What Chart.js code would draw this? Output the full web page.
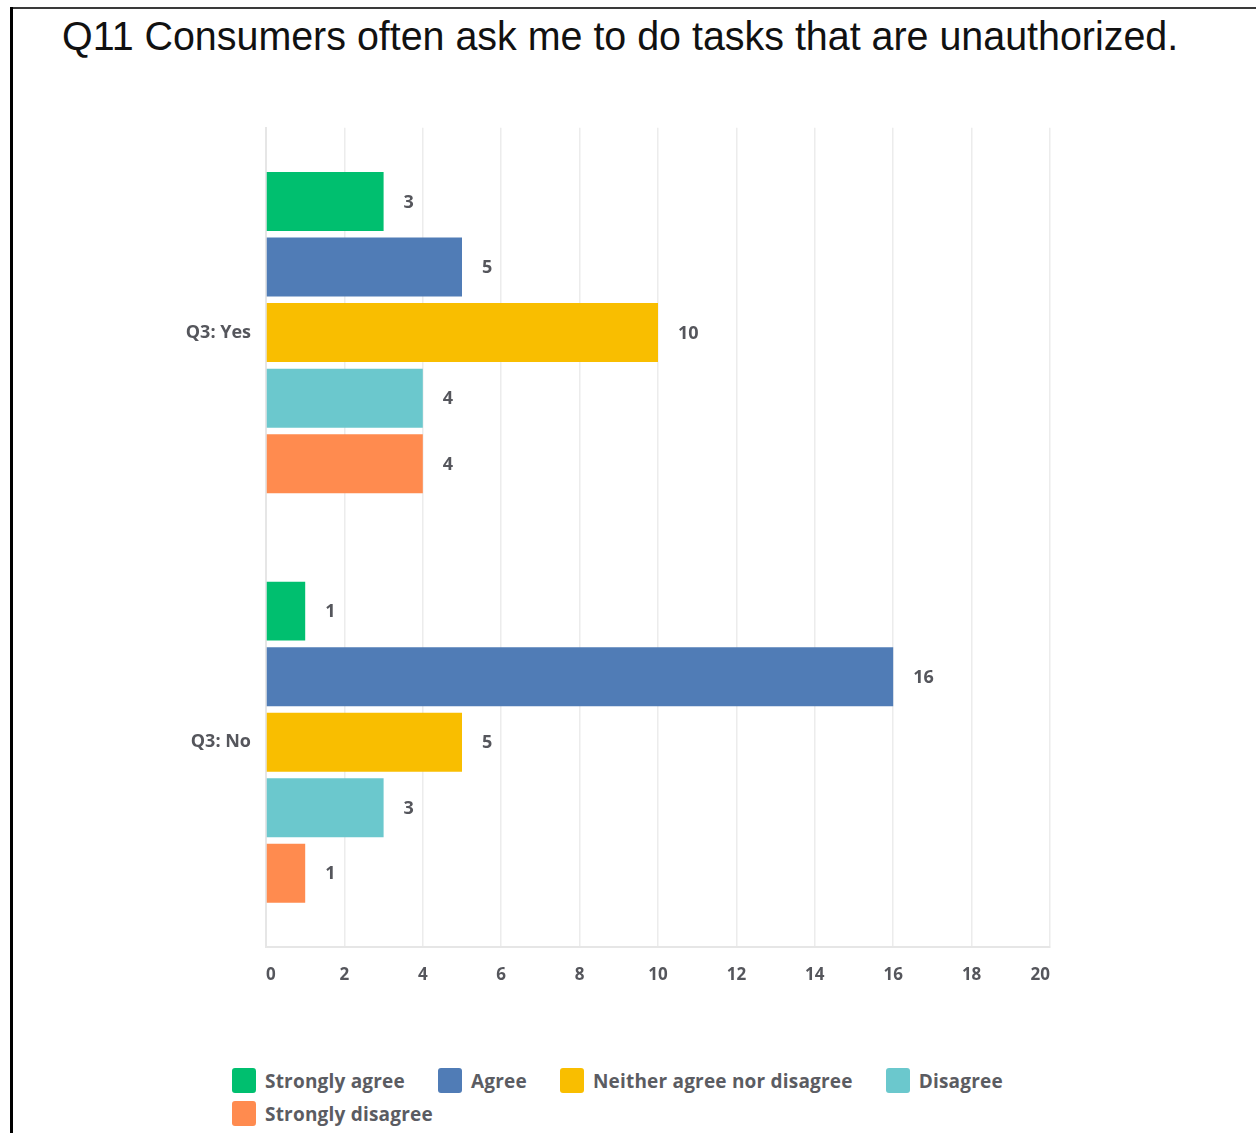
<!DOCTYPE html>
<html>
<head>
<meta charset="utf-8">
<script src="https://cdn.jsdelivr.net/npm/chart.js@4/dist/chart.umd.min.js"></script>
<style>
  html, body { margin: 0; padding: 0; background: #fff; }
  body { width: 1256px; height: 1133px; position: relative; overflow: hidden; }
  .frame-top { position: absolute; left: 10px; top: 7px; width: 1246px; height: 2px; background: #3a3a3a; }
  .frame-left { position: absolute; left: 10px; top: 7px; width: 3px; height: 1126px; background: #000; }
  #title {
    position: absolute; left: 62px; top: 14px; margin: 0;
    font-family: "Liberation Sans", Arial, sans-serif; font-size: 40px; font-weight: normal;
    color: #111; white-space: nowrap; transform-origin: 0 0;
  }
  #wrap { position: absolute; left: 0; top: 102px; width: 1256px; height: 898px; }
  #legend {
    position: absolute; left: 232px; top: 1068px; width: 830px;
    display: flex; flex-wrap: wrap; row-gap: 8px;
    font-family: "Open Sans", sans-serif; font-weight: 700; font-size: 19px; color: #5b5c62;
    letter-spacing: 0.2px;
  }
  .item { display: flex; align-items: center; margin-right: 33px; height: 25px; }
  .swatch { width: 24px; height: 25px; border-radius: 3px; margin-right: 9px; }
</style>
</head>
<body>
<div class="frame-top"></div>
<div class="frame-left"></div>
<h1 id="title">Q11 Consumers often ask me to do tasks that are unauthorized.</h1>
<div id="wrap"><canvas id="chart"></canvas></div>
<div id="legend"></div>

<script>
// survey answers per group
const groups = ['Q3: Yes', 'Q3: No'];
const answers = ['Strongly agree', 'Agree', 'Neither agree nor disagree', 'Disagree', 'Strongly disagree'];
const colors = ['#00bf6f', '#507cb6', '#f9be00', '#6bc8cd', '#ff8b4f'];
const stronglyAgree = [3, 1];
const agree = [5, 16];
const neither = [10, 5];
const disagree = [4, 3];
const stronglyDisagree = [4, 1];
const xTicks = [0, 2, 4, 6, 8, 10, 12, 14, 16, 18, 20];

const series = [stronglyAgree, agree, neither, disagree, stronglyDisagree];
const textColor = '#55565c';

// squeeze the title to its printed width
const title = document.getElementById('title');
title.style.transform = 'scaleX(' + (1116 / title.offsetWidth) + ')';

// value labels to the right of each bar
const barLabels = {
    id: 'barLabels',
    afterDatasetsDraw(chart) {
        const ctx = chart.ctx;
        ctx.save();
        ctx.font = '700 18px "Open Sans", sans-serif';
        ctx.fillStyle = textColor;
        ctx.textAlign = 'left';
        ctx.textBaseline = 'middle';
        chart.data.datasets.forEach((ds, i) => {
            chart.getDatasetMeta(i).data.forEach((bar, j) => {
                ctx.fillText(String(ds.data[j]), bar.x + 20, bar.y + 1);
            });
        });
        ctx.restore();
    }
};

new Chart(document.getElementById('chart'), {
    type: 'bar',
    data: {
        labels: groups,
        datasets: answers.map((name, i) => ({
            label: name,
            data: series[i],
            backgroundColor: colors[i],
            borderWidth: 0,
            categoryPercentage: 0.8,
            barPercentage: 0.9
        }))
    },
    options: {
        indexAxis: 'y',
        responsive: true,
        maintainAspectRatio: false,
        animation: false,
        layout: { padding: { left: 0, right: 206, top: 0, bottom: 0 } },
        plugins: {
            legend: { display: false },
            tooltip: { enabled: false }
        },
        scales: {
            x: {
                min: 0,
                max: 20,
                afterBuildTicks: axis => { axis.ticks = xTicks.map(v => ({ value: v })); },
                afterFit: axis => { axis.height = 53; },
                grid: { color: '#ececec', lineWidth: 1.5, drawTicks: false },
                border: { color: '#e6e6e6', width: 2 },
                ticks: {
                    padding: 18,
                    align: 'inner',
                    color: textColor,
                    font: { family: 'Open Sans', weight: '700', size: 17 }
                }
            },
            y: {
                afterFit: axis => { axis.width = 266; },
                grid: { display: false, drawTicks: false },
                border: { color: '#e6e6e6', width: 2 },
                ticks: {
                    padding: 15,
                    color: textColor,
                    font: { family: 'Open Sans', weight: '700', size: 18 }
                }
            }
        }
    },
    plugins: [barLabels]
});

// legend rows under the chart
const legend = document.getElementById('legend');
answers.forEach((name, i) => {
    const item = document.createElement('div');
    item.className = 'item';
    const sw = document.createElement('span');
    sw.className = 'swatch';
    sw.style.background = colors[i];
    item.appendChild(sw);
    item.appendChild(document.createTextNode(name));
    legend.appendChild(item);
});
</script>
</body>
</html>
